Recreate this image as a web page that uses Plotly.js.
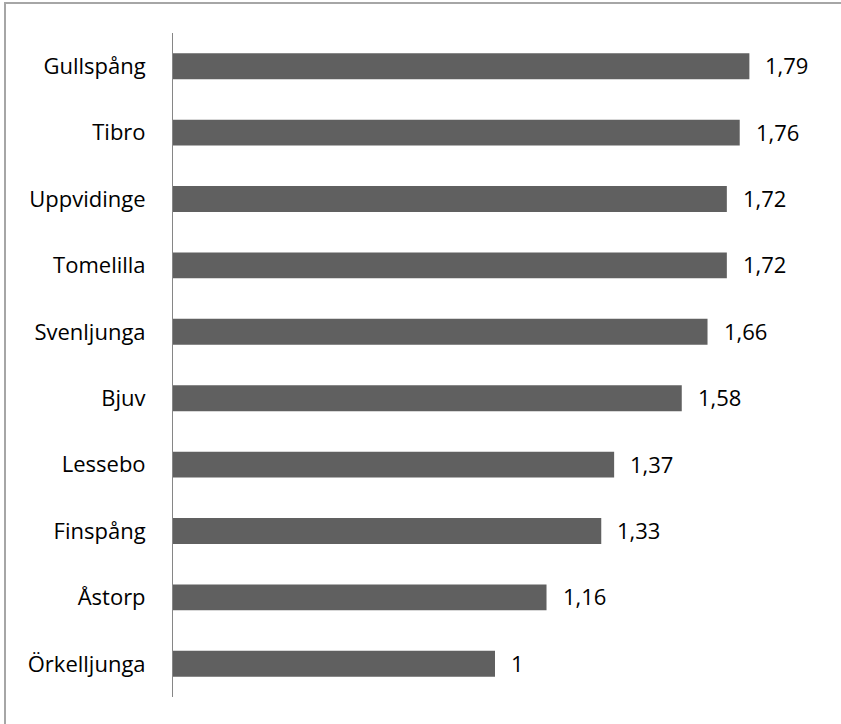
<!DOCTYPE html>
<html>
<head>
<meta charset="utf-8">
<script src="https://cdn.plot.ly/plotly-3.0.1.min.js"></script>
<style>
html, body { margin: 0; padding: 0; background: #fff; }
#frame { position: absolute; left: 4px; top: 2px; width: 900px; height: 800px;
  border-top: 2px solid #a6a6a6; border-left: 2px solid #a6a6a6; pointer-events: none; }
#chart { position: absolute; left: 0; top: 0; width: 841px; height: 724px; }
</style>
</head>
<body>
<div id="chart"></div>
<div id="frame"></div>
<script>
const categories = ["Gullspång", "Tibro", "Uppvidinge", "Tomelilla", "Svenljunga", "Bjuv", "Lessebo", "Finspång", "Åstorp", "Örkelljunga"];
const values = [1.79, 1.76, 1.72, 1.72, 1.66, 1.58, 1.37, 1.33, 1.16, 1];
const valueLabels = values.map(v => String(v).replace('.', ','));

const FONT = '"Open Sans", sans-serif';

const trace = {
  type: 'bar',
  orientation: 'h',
  x: values,
  y: categories,
  marker: { color: '#606060' },
  hoverinfo: 'none'
};

const annotations = values.map((v, i) => ({
  x: v, y: categories[i], xref: 'x', yref: 'y',
  text: valueLabels[i], showarrow: false,
  xanchor: 'left', yanchor: 'middle', xshift: 14, yshift: 1,
  font: { family: FONT, size: 22, color: '#000' }
}));

const layout = {
  width: 841, height: 724,
  margin: { l: 173, r: 24, t: 33, b: 27, pad: 0 },
  paper_bgcolor: '#fff', plot_bgcolor: '#fff',
  showlegend: false,
  bargap: 0.61,
  font: { family: FONT, size: 22, color: '#000' },
  xaxis: { range: [0, 2], visible: false, fixedrange: true },
  yaxis: {
    type: 'category', autorange: 'reversed',
    showline: true, linecolor: '#868686', linewidth: 1,
    showgrid: false, zeroline: false, ticks: '',
    ticklabelstandoff: 22,
    tickfont: { family: FONT, size: 22, color: '#000' }
  },
  annotations: annotations
};

Plotly.newPlot('chart', [trace], layout, { displayModeBar: false, staticPlot: true });
</script>
</body>
</html>
